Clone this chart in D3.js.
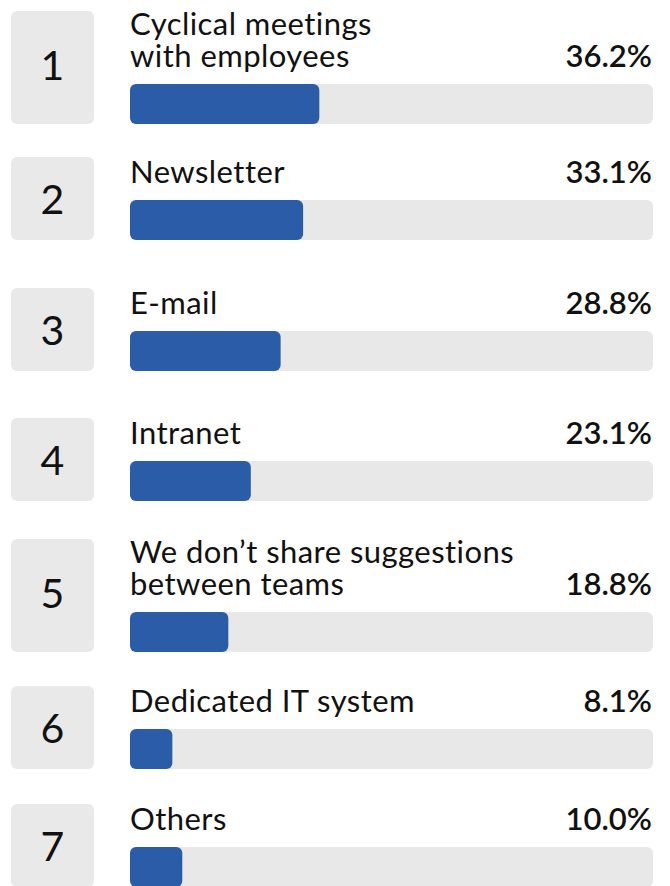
<!DOCTYPE html>
<html>
<head>
<meta charset="utf-8">
<script src="https://cdn.jsdelivr.net/npm/d3@7/dist/d3.min.js"></script>
<style>
  html, body { margin: 0; padding: 0; background: #fff; }
  svg { display: block; font-family: Lato, "Open Sans", sans-serif; }
</style>
</head>
<body>
<svg id="chart" width="670" height="886"></svg>
<script>
// Survey answers: how suggestions are shared between teams
const ranks = [1, 2, 3, 4, 5, 6, 7];
const labels = [
  ["Cyclical meetings", "with employees"],
  ["Newsletter"],
  ["E-mail"],
  ["Intranet"],
  ["We don\u2019t share suggestions", "between teams"],
  ["Dedicated IT system"],
  ["Others"]
];
const shares = [36.2, 33.1, 28.8, 23.1, 18.8, 8.1, 10.0];

// Layout
const boxX = 11, boxW = 83;
const trackX0 = 130, trackX1 = 653;
const barH = 40;
const lineH = 32;
const rowGaps = [33, 48, 47, 38, 34, 35];   // vertical space between consecutive rows
const firstTop = 11;
const rowH = n => n > 1 ? 113 : 83;

const rows = [];
let y = firstTop;
ranks.forEach((r, i) => {
  const h = rowH(labels[i].length);
  rows.push({ rank: r, lines: labels[i], value: shares[i], top: y, h });
  if (i < rowGaps.length) y += h + rowGaps[i];
});

const x = d3.scaleLinear().domain([0, 100]).range([trackX0, trackX1]);

const svg = d3.select("#chart");
const g = svg.selectAll("g.row").data(rows).join("g").attr("class", "row");

// rank tile
g.append("rect")
  .attr("x", boxX).attr("y", d => d.top)
  .attr("width", boxW).attr("height", d => d.h)
  .attr("rx", 6).attr("fill", "#e9e9e9");

g.append("text")
  .attr("x", boxX + boxW / 2)
  .attr("y", d => d.top + d.h / 2 - (d.lines.length > 1 ? 3 : 0))
  .attr("text-anchor", "middle")
  .attr("dominant-baseline", "central")
  .attr("font-size", 41)
  .attr("fill", "#111")
  .text(d => d.rank);

// track and value bar
const barTop = d => d.top + d.h - barH;
g.append("rect")
  .attr("x", x(0)).attr("y", barTop)
  .attr("width", x(100) - x(0)).attr("height", barH)
  .attr("rx", 6).attr("fill", "#e8e8e8");

g.append("rect")
  .attr("x", x(0)).attr("y", barTop)
  .attr("width", d => x(d.value) - x(0)).attr("height", barH)
  .attr("rx", 6).attr("fill", "#2a5ca8");

// answer label (one or two lines)
g.each(function (d) {
  const n = d.lines.length;
  const base = barTop(d) - 17;
  d3.select(this).selectAll("text.lbl").data(d.lines).join("text")
    .attr("class", "lbl")
    .attr("x", trackX0)
    .attr("y", (t, j) => base - (n - 1 - j) * lineH)
    .attr("font-size", 31)
    .attr("letter-spacing", 0.45)
    .attr("fill", "#111")
    .text(t => t);
});

// percentage
g.append("text")
  .attr("x", trackX1 - 1)
  .attr("y", d => barTop(d) - 17)
  .attr("text-anchor", "end")
  .attr("font-size", 31)
  .attr("font-weight", 600)
  .attr("fill", "#111")
  .text(d => d3.format(".1f")(d.value) + "%");
</script>
</body>
</html>
